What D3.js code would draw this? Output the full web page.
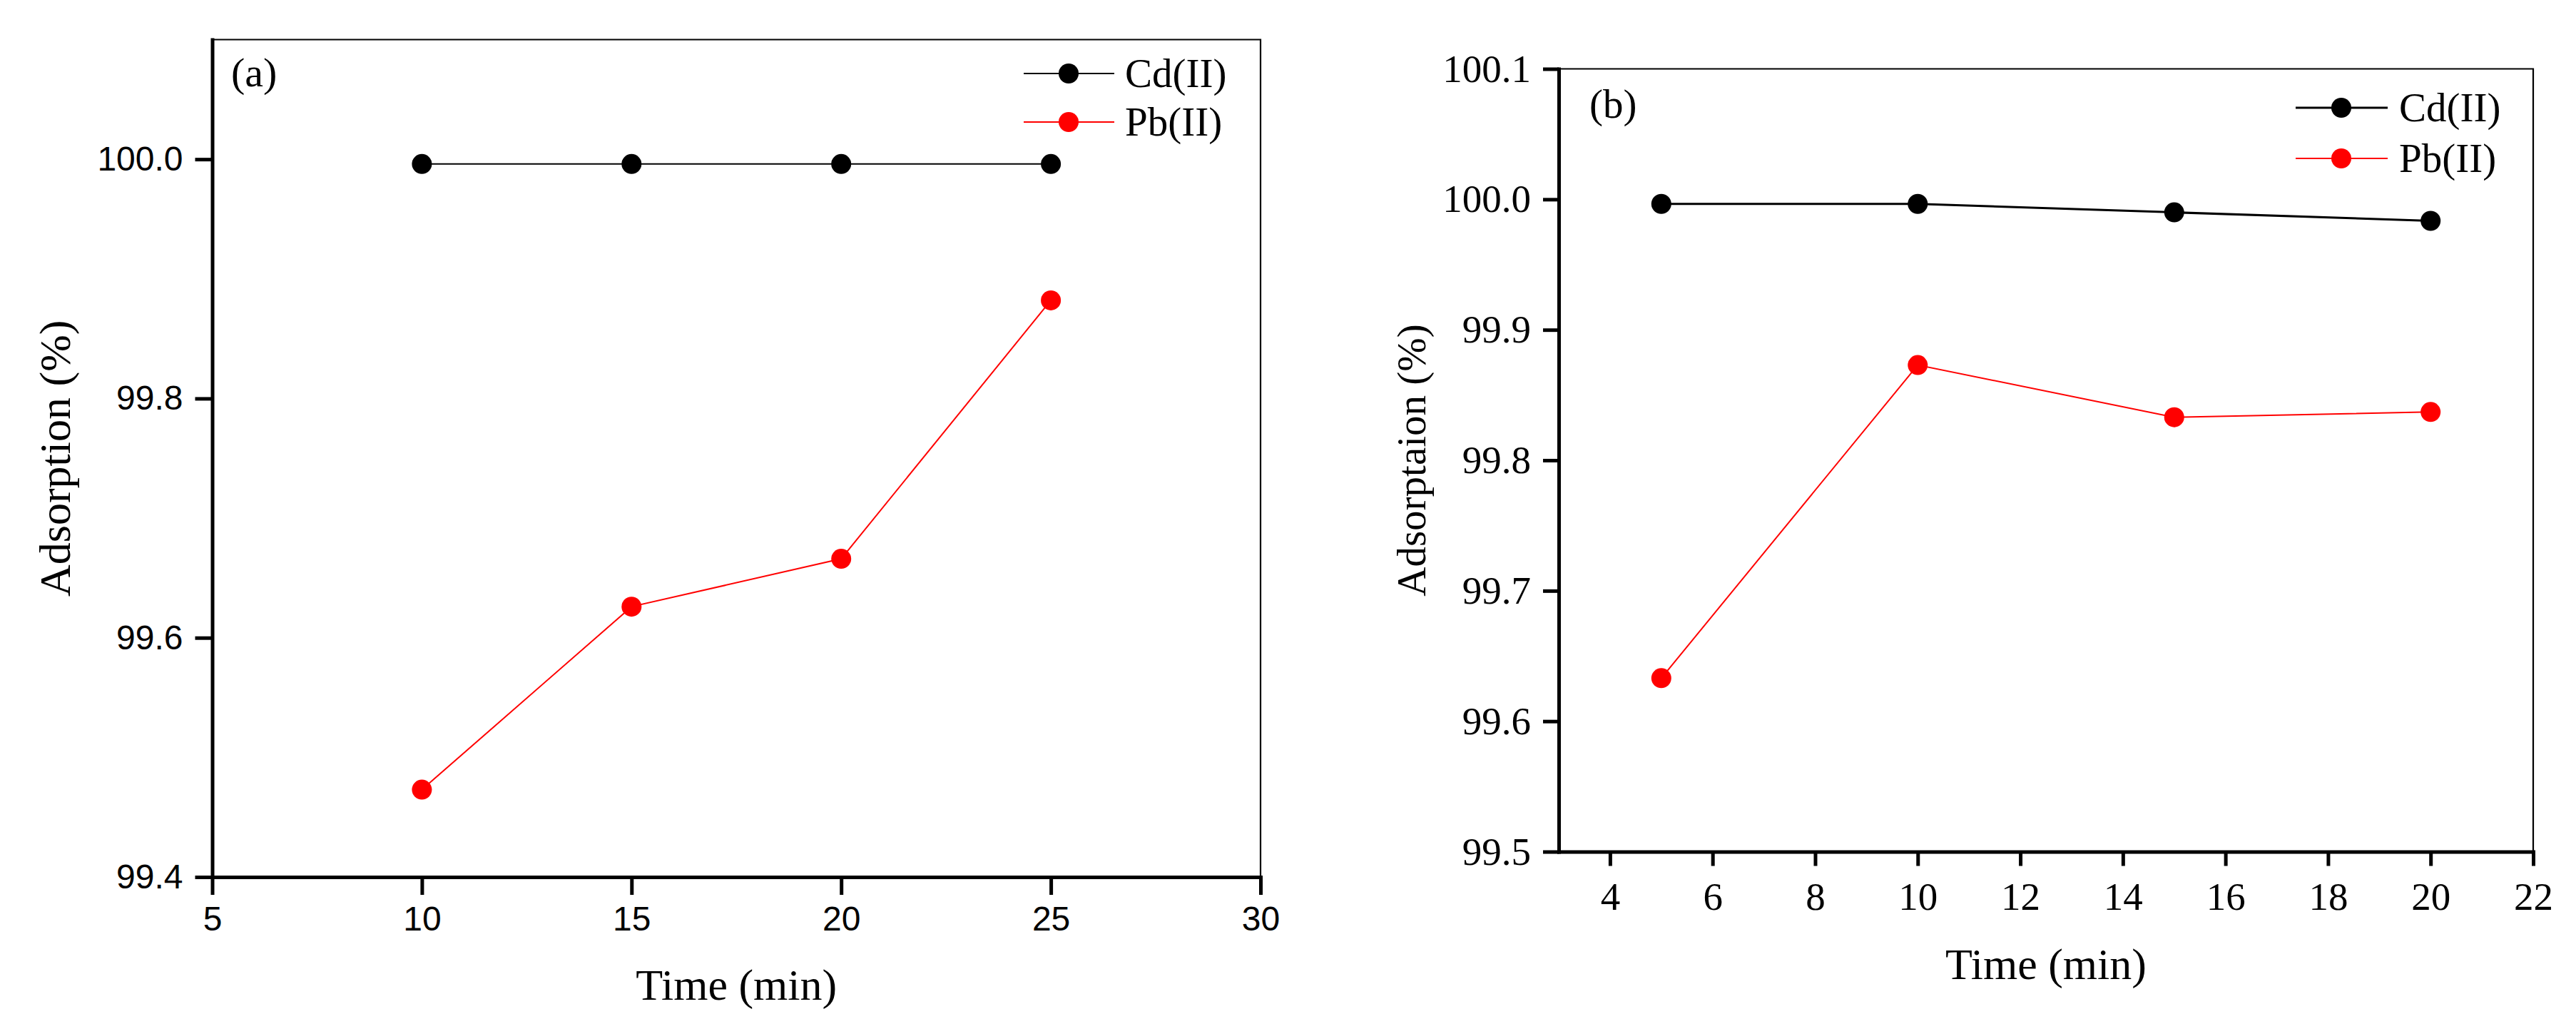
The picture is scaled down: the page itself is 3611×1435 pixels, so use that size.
<!DOCTYPE html>
<html>
<head>
<meta charset="utf-8">
<script src="https://d3js.org/d3.v7.min.js"></script>
<style>
  html, body { margin: 0; padding: 0; background: #fff; }
  svg { display: block; }
</style>
</head>
<body>
<div id="chart"></div>
<script>
// Panel (a) data
const timeA = [10, 15, 20, 25];
const cdA = [99.996, 99.996, 99.996, 99.996];
const pbA = [99.473, 99.626, 99.666, 99.882];
const xTicksA = [5, 10, 15, 20, 25, 30];
const yTicksA = [99.4, 99.6, 99.8, 100.0];

// Panel (b) data
const timeB = [5, 10, 15, 20];
const cdB = [99.9965, 99.9965, 99.990, 99.9835];
const pbB = [99.633, 99.873, 99.833, 99.837];
const xTicksB = [4, 6, 8, 10, 12, 14, 16, 18, 20, 22];
const yTicksB = [99.5, 99.6, 99.7, 99.8, 99.9, 100.0, 100.1];

const seriesNames = ["Cd(II)", "Pb(II)"];
const seriesColors = ["#000000", "#ff0000"];

const W = 3611, H = 1435;
const serif = "Liberation Serif";
const sans = "Liberation Sans";

const svg = d3.select("#chart").append("svg")
    .attr("width", W)
    .attr("height", H)
    .attr("viewBox", `0 0 ${W} ${H}`);

const panels = [
    {
        label: "(a)", time: timeA, series: [cdA, pbA],
        xDomain: [5, 30], yDomain: [99.4, 100.1],
        xTicks: xTicksA, yTicks: yTicksA,
        box: { left: 297.5, right: 1767, top: 55.5, bottom: 1229 },
        tickFont: sans, tickSize: 48,
        xTick: { len: 25, pad: 16 }, yTick: { len: 24, pad: 17 },
        lineWidths: [2, 2],
        yTitle: "Adsorption (%)", yTitleSize: 62, yTitleX: 98, xTitleY: 1401,
        labelPos: [324, 121], labelSize: 58,
        legend: { x0: 1435, x1: 1562, mx: 1498, ys: [103, 171], tx: 1577 }
    },
    {
        label: "(b)", time: timeB, series: [cdB, pbB],
        xDomain: [3, 22], yDomain: [99.5, 100.1],
        xTicks: xTicksB, yTicks: yTicksB,
        box: { left: 2185, right: 3551, top: 96.5, bottom: 1193.5 },
        tickFont: serif, tickSize: 55,
        xTick: { len: 20, pad: 22 }, yTick: { len: 22, pad: 17 },
        lineWidths: [3, 2],
        yTitle: "Adsorptaion (%)", yTitleSize: 57, yTitleX: 1998, xTitleY: 1372,
        labelPos: [2228, 165], labelSize: 57,
        legend: { x0: 3218, x1: 3347, mx: 3282, ys: [151, 222], tx: 3363 }
    }
];

panels.forEach(drawPanel);

function drawPanel(p) {
    const b = p.box;
    const x = d3.scaleLinear().domain(p.xDomain).range([b.left, b.right]);
    const y = d3.scaleLinear().domain(p.yDomain).range([b.bottom, b.top]);
    const g = svg.append("g");

    // thin top and right frame
    g.append("path")
        .attr("d", `M${b.left},${b.top}H${b.right}V${b.bottom}`)
        .attr("fill", "none")
        .attr("stroke", "#000")
        .attr("stroke-width", 2.2);

    // bottom axis
    const xAxis = g.append("g")
        .attr("transform", `translate(0,${b.bottom})`)
        .call(d3.axisBottom(x)
            .tickValues(p.xTicks)
            .tickSize(p.xTick.len)
            .tickSizeOuter(0)
            .tickPadding(p.xTick.pad)
            .tickFormat(d3.format("d")));

    // left axis
    const yAxis = g.append("g")
        .attr("transform", `translate(${b.left},0)`)
        .call(d3.axisLeft(y)
            .tickValues(p.yTicks)
            .tickSize(p.yTick.len)
            .tickSizeOuter(0)
            .tickPadding(p.yTick.pad)
            .tickFormat(d3.format(".1f")));

    [xAxis, yAxis].forEach(ax => {
        ax.attr("font-family", p.tickFont)
            .attr("font-size", p.tickSize);
        ax.select(".domain")
            .attr("stroke-width", 5)
            .attr("stroke-linecap", "square");
        ax.selectAll(".tick line").attr("stroke-width", 5);
        ax.selectAll(".tick text")
            .attr("font-family", p.tickFont)
            .attr("font-size", p.tickSize)
            .attr("fill", "#000");
    });

    // axis titles
    g.append("text")
        .attr("x", (b.left + b.right) / 2)
        .attr("y", p.xTitleY)
        .attr("text-anchor", "middle")
        .attr("font-family", serif)
        .attr("font-size", 62)
        .text("Time (min)");

    g.append("text")
        .attr("transform", `translate(${p.yTitleX},${(b.top + b.bottom) / 2}) rotate(-90)`)
        .attr("text-anchor", "middle")
        .attr("font-family", serif)
        .attr("font-size", p.yTitleSize)
        .text(p.yTitle);

    // panel label
    g.append("text")
        .attr("x", p.labelPos[0])
        .attr("y", p.labelPos[1])
        .attr("font-family", serif)
        .attr("font-size", p.labelSize)
        .text(p.label);

    // series lines and markers
    const line = d3.line()
        .x(d => x(d[0]))
        .y(d => y(d[1]));

    p.series.forEach((vals, si) => {
        const pts = p.time.map((t, i) => [t, vals[i]]);
        g.append("path")
            .datum(pts)
            .attr("d", line)
            .attr("fill", "none")
            .attr("stroke", seriesColors[si])
            .attr("stroke-width", p.lineWidths[si]);

        g.selectAll(null)
            .data(pts)
            .enter().append("circle")
            .attr("cx", d => x(d[0]))
            .attr("cy", d => y(d[1]))
            .attr("r", 14)
            .attr("fill", seriesColors[si]);
    });

    // legend
    const lg = p.legend;
    seriesNames.forEach((name, si) => {
        const ly = lg.ys[si];
        g.append("line")
            .attr("x1", lg.x0).attr("x2", lg.x1)
            .attr("y1", ly).attr("y2", ly)
            .attr("stroke", seriesColors[si])
            .attr("stroke-width", p.lineWidths[si]);
        g.append("circle")
            .attr("cx", lg.mx).attr("cy", ly)
            .attr("r", 14)
            .attr("fill", seriesColors[si]);
        g.append("text")
            .attr("x", lg.tx)
            .attr("y", ly)
            .attr("dy", "0.34em")
            .attr("font-family", serif)
            .attr("font-size", 57)
            .text(name);
    });
}
</script>
</body>
</html>
